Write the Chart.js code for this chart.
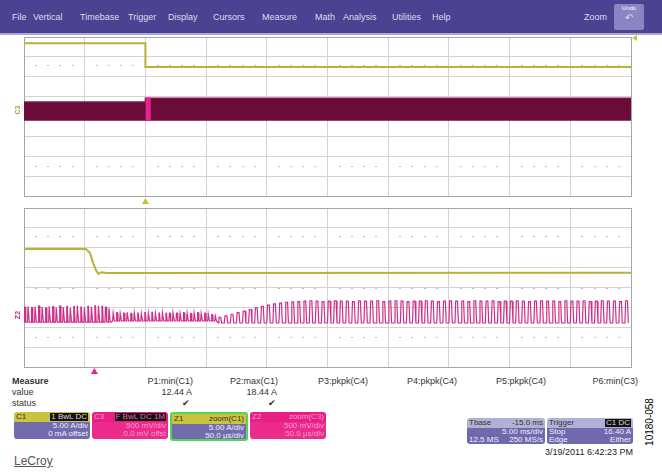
<!DOCTYPE html>
<html>
<head>
<meta charset="utf-8">
<script src="https://cdn.jsdelivr.net/npm/chart.js@4.4.0/dist/chart.umd.min.js"></script>
<style>
body { margin: 0; width: 662px; height: 475px; background: #fff; position: relative; overflow: hidden;
       font-family: 'Liberation Sans', Arial, sans-serif; }
#menu { position: absolute; left: 0; top: 0; width: 662px; height: 33px; background: #4b4391; border-bottom: 2px solid #aaa7d2; }
#menu span { position: absolute; top: 12px; font-size: 9px; color: #dedcf2; }
#undo { position: absolute; left: 614px; top: 4px; width: 30px; height: 26px; background: #8a86c4; border-radius: 2px;
        color: #fff; font-size: 6px; text-align: center; line-height: 9px; }
canvas { position: absolute; left: 0; }
.t { position: absolute; font-size: 9px; line-height: 10px; color: #333; white-space: nowrap; }
.box { position: absolute; top: 412px; width: 76px; height: 27px; border-radius: 3px; overflow: hidden; font-size: 8px; line-height: 8px; }
.box .hd { height: 10px; position: relative; }
.box .bd { height: 17px; text-align: right; padding-right: 2px; }
.hd .l { position: absolute; left: 2px; top: 1px; }
.hd .r { position: absolute; right: 2px; top: 1px; }
.badge { background: #111; color: #ddd; padding: 0 1px; }
</style>
</head>
<body>
<div id="menu">
  <span style="left:12px">File</span>
  <span style="left:33px">Vertical</span>
  <span style="left:80px">Timebase</span>
  <span style="left:128px">Trigger</span>
  <span style="left:168px">Display</span>
  <span style="left:213px">Cursors</span>
  <span style="left:262px">Measure</span>
  <span style="left:315px">Math</span>
  <span style="left:343px">Analysis</span>
  <span style="left:392px">Utilities</span>
  <span style="left:432px">Help</span>
  <span style="left:584px">Zoom</span>
  <div id="undo">Undo<br><span style="position:static;font-size:10px">&#8630;</span></div>
</div>

<canvas id="acq" width="662" height="171" style="top:34px"></canvas>
<canvas id="zoom" width="662" height="170" style="top:205px"></canvas>

<div class="t" style="left:12px;top:376px;font-weight:bold">Measure</div>
<div class="t" style="left:12px;top:387px">value</div>
<div class="t" style="left:12px;top:398px">status</div>
<div class="t" style="right:469px;top:376px">P1:min(C1)</div>
<div class="t" style="right:384px;top:376px">P2:max(C1)</div>
<div class="t" style="right:294px;top:376px">P3:pkpk(C4)</div>
<div class="t" style="right:205px;top:376px">P4:pkpk(C4)</div>
<div class="t" style="right:116px;top:376px">P5:pkpk(C4)</div>
<div class="t" style="right:24px;top:376px">P6:min(C3)</div>
<div class="t" style="right:470px;top:387px">12.44 A</div>
<div class="t" style="right:385px;top:387px">18.44 A</div>
<div class="t" style="left:182px;top:398px">&#10004;</div>
<div class="t" style="left:268px;top:398px">&#10004;</div>

<div class="box" style="left:14px">
  <div class="hd" style="background:#c9c33d"><span class="l" style="color:#333">C1</span><span class="r badge">1 BwL DC</span></div>
  <div class="bd" style="background:#726cae;color:#eeeefa">5.00 A/div<br>0 mA offset</div>
</div>
<div class="box" style="left:92px">
  <div class="hd" style="background:#e81d86"><span class="l" style="color:#f6a0cc">C3</span><span class="r badge" style="color:#e46aa8">F BwL DC 1M</span></div>
  <div class="bd" style="background:#ec2b8d;color:#f49cc8">500 mV/div<br>0.0 mV offst</div>
</div>
<div class="box" style="left:170px;width:74px;height:25px;border:2px solid #55d455">
  <div class="hd" style="background:#c9c33d"><span class="l" style="color:#333">Z1</span><span class="r" style="color:#333">zoom(C1)</span></div>
  <div class="bd" style="background:#726cae;color:#eeeefa">5.00 A/div<br>50.0 &micro;s/div</div>
</div>
<div class="box" style="left:250px">
  <div class="hd" style="background:#e81d86"><span class="l" style="color:#f6a0cc">Z2</span><span class="r" style="color:#f6a0cc">zoom(C3)</span></div>
  <div class="bd" style="background:#ec2b8d;color:#f49cc8">500 mV/div<br>50.0 &micro;s/div</div>
</div>

<div class="box" style="left:467px;top:418px;width:78px;height:26px">
  <div class="hd" style="background:#b3b0d8"><span class="l" style="color:#333">Tbase</span><span class="r" style="color:#333">-15.0 ms</span></div>
  <div class="bd" style="background:#6f69ad;color:#eeeefa;height:16px">5.00 ms/div<br><span style="float:left;padding-left:2px">12.5 MS</span>250 MS/s</div>
</div>
<div class="box" style="left:547px;top:418px;width:86px;height:26px">
  <div class="hd" style="background:#b3b0d8"><span class="l" style="color:#333">Trigger</span><span class="r badge">C1 DC</span></div>
  <div class="bd" style="background:#6f69ad;color:#eeeefa;height:16px"><span style="float:left;padding-left:2px">Stop</span>16.40 A<br><span style="float:left;padding-left:2px">Edge</span>Either</div>
</div>
<div class="t" style="right:29px;top:447px;color:#222">3/19/2011 6:42:23 PM</div>
<div class="t" style="left:14px;top:454px;font-size:12px;line-height:14px;color:#555;text-decoration:underline">LeCroy</div>
<div class="t" style="left:626px;top:417px;font-size:10px;color:#000;transform:rotate(-90deg)">10180-058</div>

<script>
// 5 ms/div acquisition: C1 inductor current (A), C3 switch node (V)
const c1Time = [-10, 0, 0, 40];
const c1Amps = [18.44, 18.44, 12.44, 12.44];
const c3BandTime = [-10, 0, 0, 40];
const c3BandHigh = [0.45, 0.45, 0.55, 0.55];
const c3BandLow = [0, 0, 0, 0];
const c3EdgeTime = [0, 0.45];
const c3EdgeHigh = [0.55, 0.55];
const triggerTime = 0;

// 50 us/div zoom traces: Z1 = zoom(C1), Z2 = zoom(C3)
const z1Time = [0, 51, 54.4, 57, 59.3, 61.2, 64, 68, 500];
const z1Amps = [18.44, 18.44, 17.4, 14.9, 13.1, 12.2, 12.6, 12.4, 12.44];
const zoomMarkTime = 58;

// Z2 switching: start (us), period (us), low level (V) and per-cycle peaks (V) of each stretch
const z2SegStart = [0, 73, 160];
const z2SegPeriod = [2.9, 2.9, 5.0];
const z2SegLow = [0.02, 0.05, 0];
const z2TallPeaks = [0.40, 0.42, 0.39, 0.41, 0.43, 0.40, 0.38, 0.42, 0.41, 0.39, 0.43, 0.40, 0.42,
                     0.38, 0.41, 0.44, 0.40, 0.39, 0.42, 0.41, 0.43, 0.44, 0.42, 0.40, 0.37];
const z2ShortPeaks = [0.25, 0.26, 0.24, 0.25, 0.27, 0.24, 0.26, 0.25, 0.24, 0.26, 0.25, 0.27, 0.24, 0.25, 0.26,
                      0.24, 0.25, 0.26, 0.25, 0.24, 0.26, 0.25, 0.24, 0.25, 0.26, 0.24, 0.25, 0.23, 0.21, 0.18];
const z2PulsePeaks = [0.14, 0.18, 0.22, 0.26, 0.30, 0.34, 0.38, 0.42, 0.45, 0.48, 0.50, 0.52, 0.53, 0.54,
                      0.55, 0.56, 0.55, 0.54, 0.55, 0.56, 0.55, 0.55, 0.54, 0.56, 0.55, 0.55, 0.56, 0.54,
                      0.55, 0.56, 0.55, 0.54, 0.55, 0.55, 0.56, 0.55, 0.54, 0.55, 0.56, 0.55, 0.55, 0.54,
                      0.56, 0.55, 0.55, 0.56, 0.54, 0.55, 0.55, 0.56, 0.55, 0.54, 0.55, 0.56, 0.55, 0.55,
                      0.54, 0.56, 0.55, 0.55, 0.56, 0.54, 0.55, 0.56, 0.55, 0.55, 0.54, 0.56];

// edge shape inside one period: [fraction of period, 1 = peak / 0 = low]
const spikeShape = [[0, 0], [0.15, 1], [0.3, 1], [0.5, 0]];
const pulseShape = [[0, 0], [0.12, 1], [0.42, 1], [0.56, 0]];

const gridColor = '#d3d3d3';
const frameColor = '#a6a6a6';

function xy(xs, ys) {
    return xs.map((x, i) => ({ x: x, y: ys[i] }));
}

function pulseTrain(start, period, low, peaks, shape) {
    const pts = [];
    peaks.forEach((p, i) => {
        const t0 = start + i * period;
        shape.forEach(([f, k]) => pts.push({ x: t0 + f * period, y: low + k * (p - low) }));
    });
    return pts;
}

function z2Points() {
    return [
        ...pulseTrain(z2SegStart[0], z2SegPeriod[0], z2SegLow[0], z2TallPeaks, spikeShape),
        ...pulseTrain(z2SegStart[1], z2SegPeriod[1], z2SegLow[1], z2ShortPeaks, spikeShape),
        ...pulseTrain(z2SegStart[2], z2SegPeriod[2], z2SegLow[2], z2PulsePeaks, pulseShape)
    ];
}

function frameOrGrid(ctx) {
    const s = ctx.scale;
    return (ctx.tick && (ctx.tick.value === s.min || ctx.tick.value === s.max)) ? frameColor : gridColor;
}

function scopeScales(xMin, xMax, xStep, extra) {
    return Object.assign({
        x: {
            type: 'linear', min: xMin, max: xMax,
            ticks: { display: false, stepSize: xStep },
            grid: { color: frameOrGrid, drawTicks: false },
            border: { color: frameColor }
        },
        div: {
            type: 'linear', position: 'left', min: -4, max: 4,
            ticks: { display: false, stepSize: 1 },
            grid: { color: frameOrGrid, drawTicks: false },
            border: { color: frameColor }
        }
    }, extra);
}

function trace(data, axis, color, width, more) {
    return Object.assign({
        data: data, yAxisID: axis, borderColor: color, borderWidth: width,
        pointRadius: 0, tension: 0, fill: false
    }, more || {});
}

// dotted minor-tick rows, in divisions
const minorTicks = {
    id: 'minorTicks',
    beforeDatasetsDraw(chart, args, opts) {
        const { ctx, chartArea: a } = chart;
        const div = chart.scales.div;
        ctx.save();
        ctx.fillStyle = '#bcbcbc';
        opts.rows.forEach(v => {
            const y = Math.round(div.getPixelForValue(v));
            for (let i = 1; i < 50; i++) {
                if (i % 5 === 0) continue;
                const x = Math.round(a.left + (a.right - a.left) * i / 50);
                ctx.fillRect(x - 1, y, 2, 1);
            }
        });
        ctx.restore();
    }
};

function triangleUp(ctx, x, top, w, h, color) {
    ctx.beginPath();
    ctx.moveTo(x, top);
    ctx.lineTo(x + w / 2, top + h);
    ctx.lineTo(x - w / 2, top + h);
    ctx.closePath();
    ctx.fillStyle = color;
    ctx.fill();
}

function channelTag(ctx, x, y, text, color) {
    ctx.save();
    ctx.translate(x, y);
    ctx.rotate(-Math.PI / 2);
    ctx.font = 'bold 7px "Liberation Sans", Arial';
    ctx.textAlign = 'center';
    ctx.textBaseline = 'middle';
    ctx.fillStyle = color;
    ctx.fillText(text, 0, 0);
    ctx.restore();
}

Chart.defaults.animation = false;
Chart.defaults.plugins.legend.display = false;
Chart.defaults.plugins.tooltip.enabled = false;

new Chart(document.getElementById('acq'), {
    type: 'line',
    data: {
        datasets: [
            trace(xy(c1Time, c1Amps), 'c1', '#b7b238', 2),
            trace(xy(c3EdgeTime, c3EdgeHigh), 'c3', '#e8238f', 1, { fill: '+1', backgroundColor: '#e8238f' }),
            trace(xy(c3EdgeTime, [0, 0]), 'c3', '#e8238f', 1),
            trace(xy(c3BandTime, c3BandHigh), 'c3', '#86154e', 1.5, { fill: '+1', backgroundColor: '#6b0b3a' }),
            trace(xy(c3BandTime, c3BandLow), 'c3', '#6b0b3a', 1.5)
        ]
    },
    options: {
        responsive: false,
        layout: { padding: { left: 24, right: 31, top: 3, bottom: 9 } },
        scales: scopeScales(-10, 40, 5, {
            c1: { display: false, min: -20, max: 20 },
            c3: { display: false, min: -1.912, max: 2.088 }
        }),
        plugins: { minorTicks: { rows: [2.6, 0, -2.5] } }
    },
    plugins: [minorTicks, {
        id: 'acqMarks',
        afterDraw(chart) {
            const { ctx, chartArea: a, scales } = chart;
            triangleUp(ctx, scales.x.getPixelForValue(triggerTime), a.bottom + 2, 7, 6, '#c8c13a');
            ctx.beginPath();
            ctx.moveTo(a.right + 1, a.top + 1);
            ctx.lineTo(a.right + 6, a.top - 2);
            ctx.lineTo(a.right + 6, a.top + 4);
            ctx.closePath();
            ctx.fillStyle = '#c8c13a';
            ctx.fill();
            channelTag(ctx, a.left - 6, scales.c3.getPixelForValue(0.25), 'C3', '#aaa23a');
        }
    }]
});

new Chart(document.getElementById('zoom'), {
    type: 'line',
    data: {
        datasets: [
            trace(xy(z1Time, z1Amps), 'z1', '#b7b238', 2),
            trace(z2Points(), 'z2', '#cf2d88', 1.2)
        ]
    },
    options: {
        responsive: false,
        layout: { padding: { left: 24, right: 31, top: 3, bottom: 8 } },
        scales: scopeScales(0, 500, 50, {
            z1: { display: false, min: -11.25, max: 28.75 },
            z2: { display: false, min: -1.107, max: 2.893 }
        }),
        plugins: { minorTicks: { rows: [2.6, 0, -2.5] } }
    },
    plugins: [minorTicks, {
        id: 'zoomMarks',
        afterDraw(chart) {
            const { ctx, chartArea: a, scales } = chart;
            triangleUp(ctx, scales.x.getPixelForValue(zoomMarkTime), a.bottom + 1, 7, 6, '#e0258a');
            channelTag(ctx, a.left - 6, scales.z2.getPixelForValue(0.2), 'Z2', '#c42a7e');
        }
    }]
});
</script>
</body>
</html>
